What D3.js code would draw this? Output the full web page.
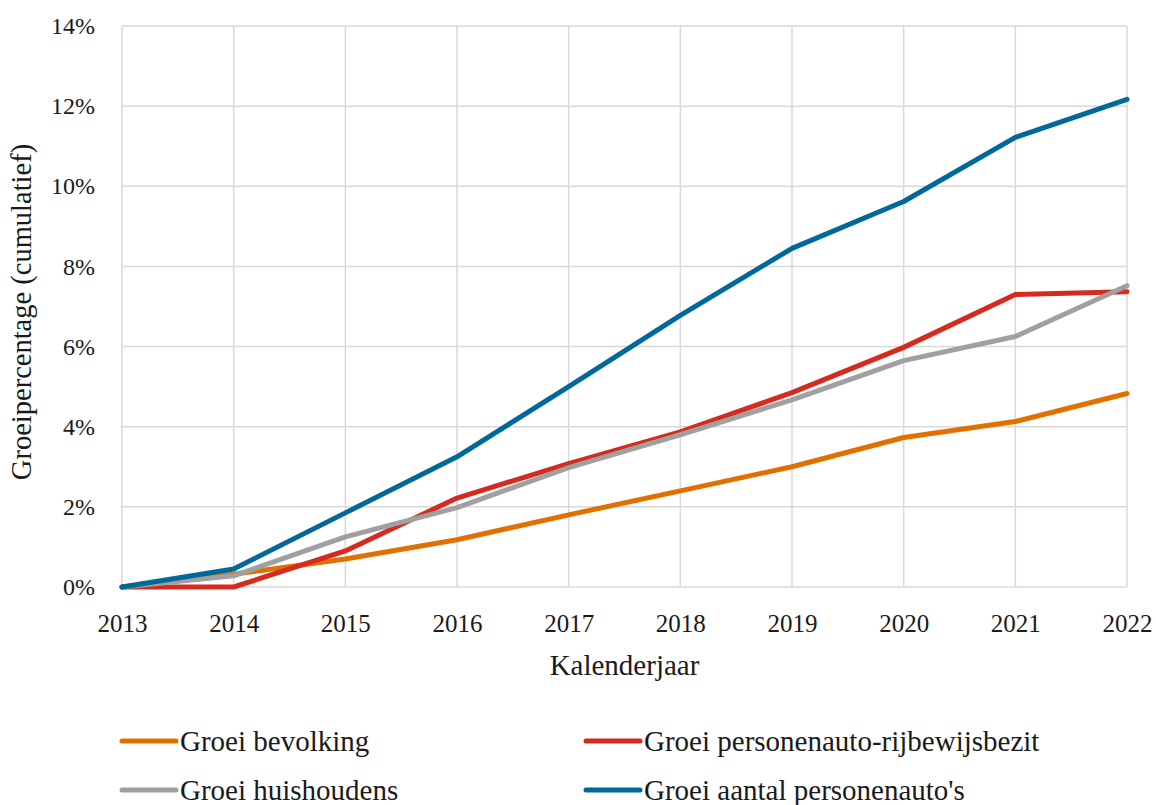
<!DOCTYPE html>
<html><head><meta charset="utf-8">
<script src="https://cdn.jsdelivr.net/npm/d3@7"></script>
<style>
html,body{margin:0;padding:0;background:#fff;}
svg text{font-family:"Liberation Serif",serif;fill:#1a1a1a;}
</style></head>
<body><svg id="c" width="1156" height="805"></svg>
<script>
const years = [2013,2014,2015,2016,2017,2018,2019,2020,2021,2022];
const bevolking = [0,0.32,0.70,1.18,1.80,2.40,3.00,3.73,4.13,4.83];
const rijbewijs = [0,0,0.90,2.22,3.08,3.87,4.85,5.98,7.30,7.37];
const huishoudens = [0,0.28,1.25,1.98,2.98,3.80,4.67,5.65,6.25,7.52];
const autos = [0,0.45,1.85,3.25,5.00,6.78,8.45,9.62,11.22,12.17];
const yTicks = [0,2,4,6,8,10,12,14];
const seriesNames = ["Groei bevolking","Groei personenauto-rijbewijsbezit","Groei huishoudens","Groei aantal personenauto's"];
const seriesColors = ["#e17000","#d52b1e","#a0a0a0","#01689b"];
const seriesData = [bevolking, rijbewijs, huishoudens, autos];

const svg = d3.select("#c");
const x = d3.scaleLinear().domain([2013,2022]).range([122,1127]);
const y = d3.scaleLinear().domain([0,14]).range([587,26]);

// grid
svg.append("g").selectAll("line").data(yTicks).join("line")
  .attr("x1",x(2013)).attr("x2",x(2022)).attr("y1",d=>y(d)).attr("y2",d=>y(d))
  .attr("stroke","#d9d9d9").attr("stroke-width",1.5);
svg.append("g").selectAll("line").data(years).join("line")
  .attr("x1",d=>x(d)).attr("x2",d=>x(d)).attr("y1",y(0)).attr("y2",y(14))
  .attr("stroke","#d9d9d9").attr("stroke-width",1.5);

// axes
const yAxis = d3.axisLeft(y).tickValues(yTicks).tickFormat(d=>d+"%").tickSize(0).tickPadding(27);
const gy = svg.append("g").attr("transform",`translate(${x(2013)},0)`).call(yAxis);
gy.select(".domain").remove();
gy.selectAll("text").attr("font-size",24).style("font-family","Liberation Serif");

const xAxis = d3.axisBottom(x).tickValues(years).tickFormat(d3.format("d")).tickSize(0).tickPadding(27);
const gx = svg.append("g").attr("transform",`translate(0,${y(0)})`).call(xAxis);
gx.select(".domain").remove();
gx.selectAll("text").attr("font-size",25).style("font-family","Liberation Serif");

// titles
svg.append("text").attr("x",(x(2013)+x(2022))/2).attr("y",675).attr("text-anchor","middle")
  .attr("font-size",29).text("Kalenderjaar");
svg.append("text").attr("transform",`translate(31,312) rotate(-90)`).attr("text-anchor","middle")
  .attr("font-size",28.5).text("Groeipercentage (cumulatief)");

// lines
const line = d3.line().x((d,i)=>x(years[i])).y(d=>y(d));
const order = [0,1,2,3];
svg.append("g").selectAll("path").data(order).join("path")
  .attr("d",i=>line(seriesData[i])).attr("fill","none")
  .attr("stroke",i=>seriesColors[i]).attr("stroke-width",5)
  .attr("stroke-linejoin","round").attr("stroke-linecap","round");

// legend
const legPos = [[120,741],[584,741],[120,790],[584,790]];
const lg = svg.append("g");
seriesNames.forEach((n,i)=>{
  const [lx,ly] = legPos[i];
  lg.append("line").attr("x1",lx+2).attr("x2",lx+56).attr("y1",ly).attr("y2",ly)
    .attr("stroke",seriesColors[i]).attr("stroke-width",5).attr("stroke-linecap","round");
  lg.append("text").attr("x",lx+60).attr("y",ly).attr("dy","0.35em").attr("font-size",29).text(n);
});
</script></body></html>
